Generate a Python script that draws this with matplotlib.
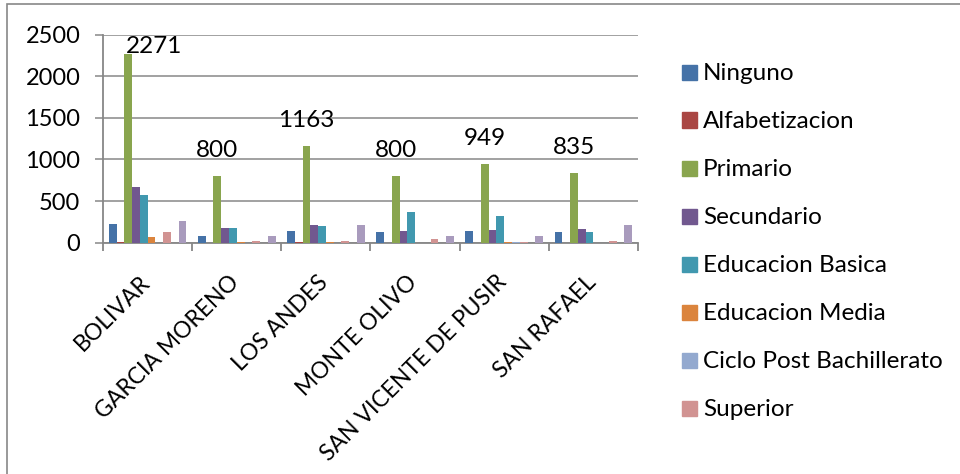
import matplotlib
matplotlib.use("Agg")
import matplotlib.pyplot as plt
import matplotlib.transforms as mtransforms
from matplotlib.patches import Rectangle
import numpy as np

plt.rcParams['font.family'] = ['Lato', 'DejaVu Sans']

# parroquias and number of people per education level
parroquias = ["BOLIVAR", "GARCIA MORENO", "LOS ANDES", "MONTE OLIVO",
              "SAN VICENTE DE PUSIR", "SAN RAFAEL"]
niveles = ["Ninguno", "Alfabetizacion", "Primario", "Secundario",
           "Educacion Basica", "Educacion Media", "Ciclo Post Bachillerato",
           "Superior", "Postgrado", "Se ignora"]

ninguno = [221, 85, 135, 124, 145, 128]
alfabetizacion = [10, 2, 8, 2, 2, 2]
primario = [2271, 800, 1163, 800, 949, 835]
secundario = [670, 176, 208, 140, 157, 160]
basica = [570, 180, 196, 369, 325, 133]
media = [68, 10, 5, 0, 6, 0]
ciclo_post = [0, 0, 0, 0, 3, 0]
superior = [125, 20, 15, 40, 5, 15]
postgrado = [0, 0, 0, 0, 0, 0]
se_ignora = [255, 80, 210, 76, 84, 210]

series = [ninguno, alfabetizacion, primario, secundario, basica, media,
          ciclo_post, superior, postgrado, se_ignora]
colores = ['#4572A7', '#AA4643', '#89A54E', '#71588F', '#4198AF', '#DB843D',
           '#93A9CF', '#D19392', '#B9CD96', '#A99BBD']
n_legend = 8  # only the first eight levels fit in the legend box

W, H = 960, 474
fig = plt.figure(figsize=(W / 100, H / 100), dpi=100)
ax = fig.add_axes([103 / W, 1 - 242.7 / H, (638 - 103) / W, (242.7 - 34.7) / H])

gris = '#878787'
x = np.arange(len(parroquias))
n = len(series)
w = 1 / (n + 1.5)
bars = []
for i, (vals, col) in enumerate(zip(series, colores)):
    b = ax.bar(x + (i - (n - 1) / 2) * w, vals, w, color=col, zorder=3)
    bars.append(b)

ax.set_xlim(-0.5, len(parroquias) - 0.5)
ax.set_ylim(0, 2500)
ax.set_yticks(np.arange(0, 2501, 500))
ax.yaxis.grid(True, color=gris, lw=1.1)
ax.set_axisbelow(True)
for s in ['top', 'right']:
    ax.spines[s].set_visible(False)
for s in ['left', 'bottom']:
    ax.spines[s].set_color(gris)
    ax.spines[s].set_linewidth(1.3)

ax.tick_params(axis='y', length=5.8, width=1.1, color=gris, pad=10.5, labelsize=17)
ax.set_xticks(x)
ax.set_xticks(np.arange(-0.5, len(parroquias)), minor=True)
ax.tick_params(axis='x', which='minor', length=5.5, width=1.3, color=gris)
ax.tick_params(axis='x', which='major', length=0, pad=26)
ax.set_xticklabels(parroquias, rotation=45, ha='right', va='center',
                   rotation_mode='anchor', fontsize=16.5)
shift = mtransforms.ScaledTranslation(-1 / 100, 0, fig.dpi_scale_trans)
for lbl in ax.get_xticklabels():
    lbl.set_transform(lbl.get_transform() + shift)

# value labels on Primario
top = ax.get_ylim()[1]
for rect, v in zip(bars[2], primario):
    cx = rect.get_x() + rect.get_width() / 2
    if v + 0.095 * top > top * 0.99:
        ax.annotate(str(v), (rect.get_x(), top), xytext=(1, -1),
                    textcoords='offset points', ha='left', va='top',
                    fontsize=17.5)
    else:
        ax.annotate(str(v), (cx, v), xytext=(0, 13.7),
                    textcoords='offset points', ha='center', va='baseline',
                    fontsize=17.5)

# legend
for i in range(n_legend):
    yc = 72 + 48 * i
    fig.add_artist(Rectangle((682 / W, 1 - (yc + 7.5) / H), 15 / W, 15 / H,
                             transform=fig.transFigure, color=colores[i]))
    fig.text(703 / W, 1 - yc / H, niveles[i], fontsize=17.5, va='center_baseline',
             ha='left')

# chart border
fig.add_artist(Rectangle((7 / W, -0.1), 2, 1 - 4 / H + 0.1, transform=fig.transFigure,
                         fill=False, ec=gris, lw=1.2))

fig.savefig('out.png', dpi=100)
